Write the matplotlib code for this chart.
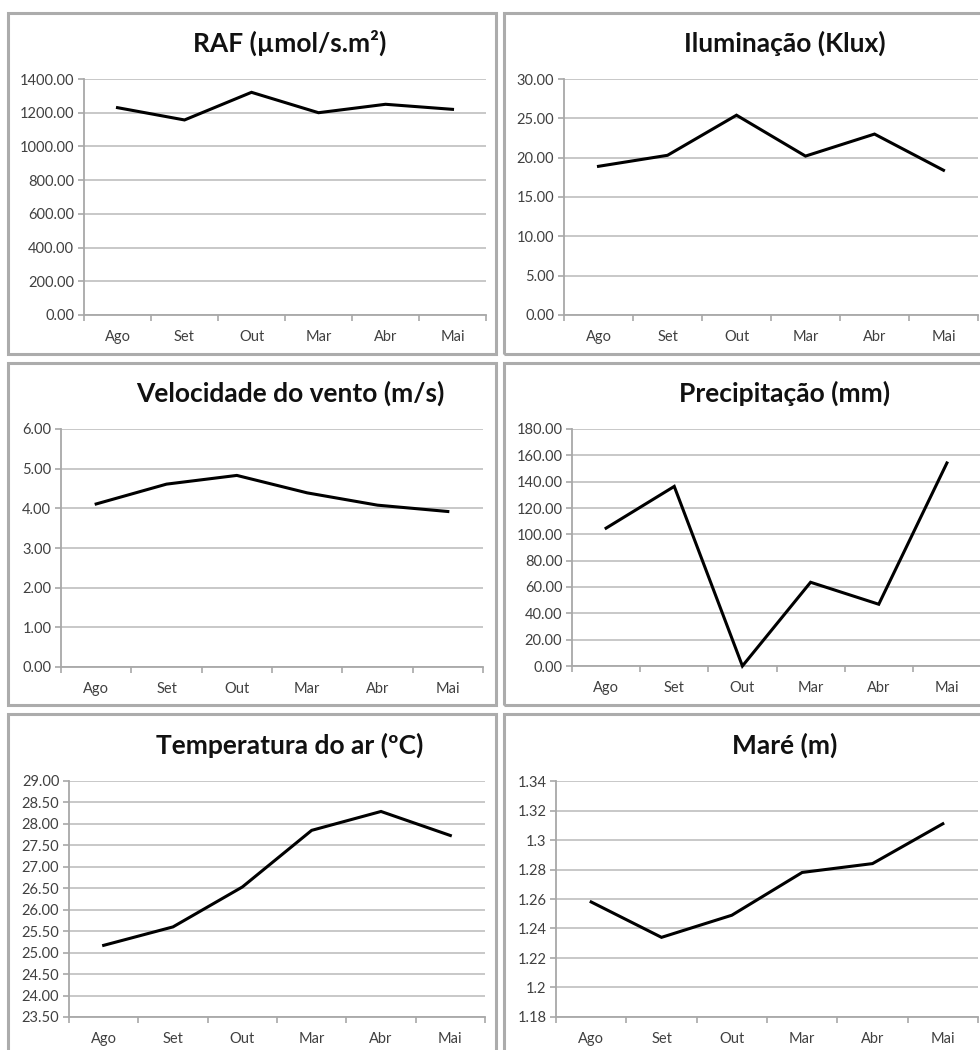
import matplotlib
matplotlib.use("Agg")
from matplotlib import pyplot as plt
from matplotlib.patches import Rectangle
from matplotlib.ticker import FixedLocator, FormatStrFormatter
import numpy as np

W, H = 980, 1050

meses = ["Ago", "Set", "Out", "Mar", "Abr", "Mai"]

raf = [1230, 1157, 1321, 1200, 1250, 1220]
iluminacao = [18.9, 20.3, 25.4, 20.2, 23.0, 18.4]
vento = [4.11, 4.61, 4.83, 4.39, 4.08, 3.92]
precipitacao = [104.7, 136.4, 0.0, 63.6, 46.9, 154.2]
temperatura = [25.17, 25.60, 26.53, 27.85, 28.29, 27.73]
mare = [1.258, 1.234, 1.249, 1.278, 1.284, 1.311]

raf_ticks = [0, 200, 400, 600, 800, 1000, 1200, 1400]
ilum_ticks = [0, 5, 10, 15, 20, 25, 30]
vento_ticks = [0, 1, 2, 3, 4, 5, 6]
prec_ticks = [0, 20, 40, 60, 80, 100, 120, 140, 160, 180]
temp_ticks = [23.5, 24.0, 24.5, 25.0, 25.5, 26.0, 26.5, 27.0, 27.5, 28.0, 28.5, 29.0]
mare_ticks = [1.18, 1.20, 1.22, 1.24, 1.26, 1.28, 1.30, 1.32, 1.34]
mare_labels = ["1.18", "1.2", "1.22", "1.24", "1.26", "1.28", "1.3", "1.32", "1.34"]

GRID = "#c4c4c4"
AXIS = "#a8a8a8"
TXT = "#404040"
BOX = "#acacac"

plt.rcParams["font.family"] = ["Lato", "DejaVu Sans"]

fig = plt.figure(figsize=(W / 100, H / 100), dpi=100)
fig.patch.set_facecolor("white")


def px_rect(x0, y0, x1, y1):
    # pixel box (top-left origin) -> figure fraction [left, bottom, width, height]
    return [x0 / W, 1 - y1 / H, (x1 - x0) / W, (y1 - y0) / H]


def draw_panel(box, plot, title, title_xy, values, ticks, labels=None):
    bx0, by0, bx1, by1 = box
    fig.patches.append(Rectangle((bx0 / W, 1 - by1 / H), (bx1 - bx0) / W, (by1 - by0) / H,
                                 transform=fig.transFigure, fill=False,
                                 edgecolor=BOX, linewidth=2.2, zorder=0))
    ax = fig.add_axes(px_rect(*plot))
    x = np.arange(len(meses))
    ax.plot(x, values, color="black", linewidth=2.2, solid_joinstyle="miter", clip_on=False, zorder=3)
    ax.set_xlim(-0.5, len(meses) - 0.5)
    ax.set_ylim(ticks[0], ticks[-1])
    ax.yaxis.set_major_locator(FixedLocator(ticks))
    if labels is None:
        ax.yaxis.set_major_formatter(FormatStrFormatter("%.2f"))
    else:
        ax.set_yticklabels(labels)
    ax.set_xticks(x)
    ax.set_xticklabels(meses)
    ax.xaxis.set_minor_locator(FixedLocator(np.arange(-0.5, len(meses), 1.0)))
    ax.grid(axis="y", color=GRID, linewidth=1.3, zorder=1)
    ax.set_axisbelow(True)
    for s in ["top", "right"]:
        ax.spines[s].set_visible(False)
    for s in ["left", "bottom"]:
        ax.spines[s].set_color(AXIS)
        ax.spines[s].set_linewidth(1.3)
    ax.tick_params(axis="x", which="major", length=0, pad=11, labelsize=10.5, labelcolor=TXT)
    ax.tick_params(axis="x", which="minor", length=4, width=1.2, color=AXIS, direction="out")
    ax.tick_params(axis="y", which="major", length=4, width=1.2, color=AXIS, pad=3,
                   labelsize=10.5, labelcolor=TXT)
    fig.text(title_xy[0] / W, 1 - title_xy[1] / H, title, ha="center", va="center",
             fontsize=19, fontweight="bold", color="#111111")
    return ax


draw_panel((8, 13, 496, 354), (84, 79, 486, 315), "RAF (µmol/s.m²)", (290, 43), raf, raf_ticks)
draw_panel((504, 13, 990, 354), (564, 79, 978, 315), "Iluminação (Klux)", (785, 43),
           iluminacao, ilum_ticks)
draw_panel((8, 363, 496, 705), (61, 429, 483, 667), "Velocidade do vento (m/s)", (290, 393),
           vento, vento_ticks)
draw_panel((504, 363, 990, 705), (572, 429, 981, 666), "Precipitação (mm)", (785, 393),
           precipitacao, prec_ticks)
draw_panel((8, 714, 496, 1070), (69, 781, 485, 1017), "Temperatura do ar (ºC)", (290, 745),
           temperatura, temp_ticks)
draw_panel((504, 714, 990, 1070), (556, 781, 978, 1017), "Maré (m)", (785, 745),
           mare, mare_ticks, mare_labels)

fig.savefig("out.png", dpi=100)
